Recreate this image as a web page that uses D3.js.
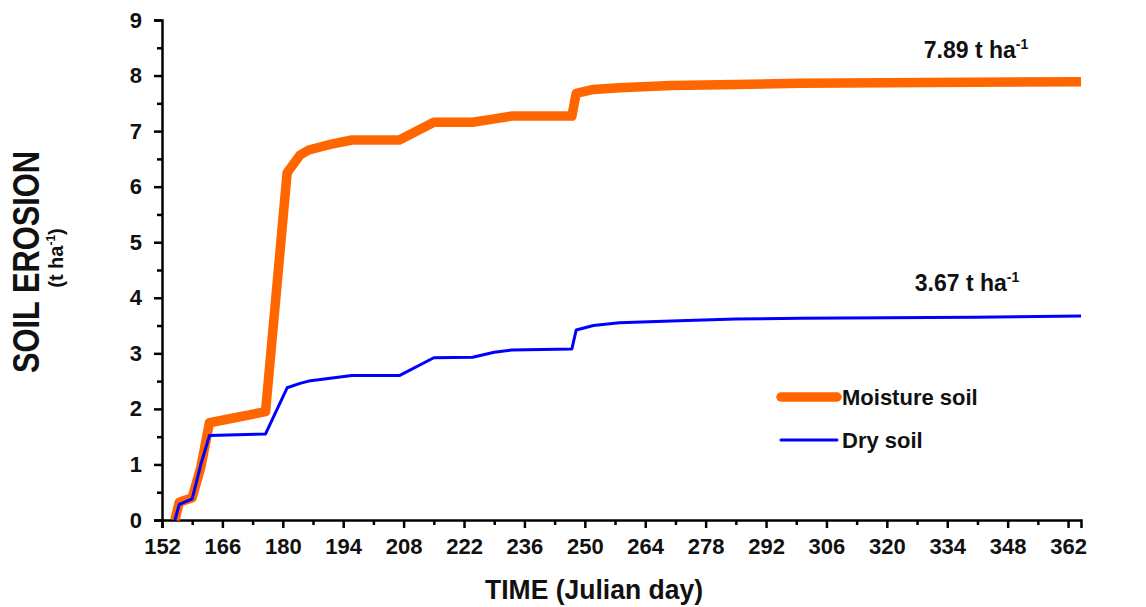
<!DOCTYPE html>
<html>
<head>
<meta charset="utf-8">
<script src="https://cdn.jsdelivr.net/npm/d3@7"></script>
<style>
  html, body { margin: 0; padding: 0; background: #fff; }
  svg { display: block; font-family: "Liberation Sans", Arial, sans-serif; }
</style>
</head>
<body>
<svg id="chart" width="1146" height="607"></svg>
<script>
// Cumulative soil erosion (t ha-1) over the season, by Julian day
const days = [155, 156, 159, 161, 163, 176, 181, 184, 186, 191, 196, 207, 215, 224, 229, 233, 247, 248, 252, 258, 270, 285, 300, 320, 340, 365];
const moistureSoil = [0, 0.32, 0.40, 0.95, 1.75, 1.95, 6.25, 6.57, 6.66, 6.76, 6.84, 6.84, 7.16, 7.16, 7.22, 7.27, 7.27, 7.68, 7.75, 7.78, 7.82, 7.84, 7.86, 7.87, 7.88, 7.89];
const drySoil = [0, 0.28, 0.38, 1.00, 1.52, 1.55, 2.38, 2.46, 2.50, 2.55, 2.60, 2.60, 2.92, 2.93, 3.02, 3.06, 3.08, 3.42, 3.50, 3.55, 3.58, 3.62, 3.63, 3.64, 3.65, 3.67];
const seriesNames = ["Moisture soil", "Dry soil"];
const xTickLabels = [152, 166, 180, 194, 208, 222, 236, 250, 264, 278, 292, 306, 320, 334, 348, 362];
const yTickLabels = [0, 1, 2, 3, 4, 5, 6, 7, 8, 9];
const endLabels = ["7.89", "3.67"];

const svg = d3.select("#chart");
const x = d3.scaleLinear().domain([152, 365]).range([162, 1081]);
const y = d3.scaleLinear().domain([0, 9]).range([520, 20]);

const axisColor = "#000";
const textColor = "#111";
const font = "Liberation Sans, Arial, sans-serif";

// X axis: labelled every 14 days, minor ticks every 7
const xMinor = d3.range(152, 363, 7).filter(d => !xTickLabels.includes(d));
const gx = svg.append("g").attr("transform", `translate(0,${y(0)})`);
gx.call(d3.axisBottom(x).tickValues(xMinor).tickSize(5).tickFormat(""));
gx.select(".domain").remove();
gx.selectAll(".tick line").attr("stroke-width", 2.5).attr("stroke", axisColor);
const gxMaj = svg.append("g").attr("transform", `translate(0,${y(0)})`);
gxMaj.call(d3.axisBottom(x).tickValues(xTickLabels).tickSize(8).tickPadding(10).tickFormat(d3.format("d")));
gxMaj.select(".domain").attr("stroke", axisColor).attr("stroke-width", 2.5);
gxMaj.selectAll(".tick line").attr("stroke", axisColor).attr("stroke-width", 2.5);
gxMaj.selectAll(".tick text").attr("font-size", 22).attr("font-weight", "bold").attr("fill", textColor)
  .attr("font-family", font);

// Y axis: integers labelled, half-units as minor ticks
const yMinor = d3.range(0.5, 9, 1);
const gy = svg.append("g").attr("transform", `translate(${x(152)},0)`);
gy.call(d3.axisLeft(y).tickValues(yMinor).tickSize(5).tickFormat(""));
gy.select(".domain").remove();
gy.selectAll(".tick line").attr("stroke", axisColor).attr("stroke-width", 2.5);
const gyMaj = svg.append("g").attr("transform", `translate(${x(152)},0)`);
gyMaj.call(d3.axisLeft(y).tickValues(yTickLabels).tickSize(8).tickPadding(12).tickFormat(d3.format("d")));
gyMaj.select(".domain").attr("stroke", axisColor).attr("stroke-width", 2.5);
gyMaj.selectAll(".tick line").attr("stroke", axisColor).attr("stroke-width", 2.5);
gyMaj.selectAll(".tick text").attr("font-size", 22).attr("font-weight", "bold").attr("fill", textColor)
  .attr("font-family", font);

// Series lines
const line = d3.line().x((d, i) => x(days[i])).y(d => y(d));
const styles = [
  { values: moistureSoil, color: "#FF6600", width: 9.5 },
  { values: drySoil, color: "#0000FF", width: 3 }
];
styles.forEach(s => {
  svg.append("path")
    .datum(s.values)
    .attr("fill", "none")
    .attr("stroke", s.color)
    .attr("stroke-width", s.width)
    .attr("stroke-linejoin", "round")
    .attr("d", line);
});

// End-of-season totals
const endPos = [[976, 58], [967, 291]];
endLabels.forEach((lab, i) => {
  const t = svg.append("text")
    .attr("x", endPos[i][0]).attr("y", endPos[i][1])
    .attr("text-anchor", "middle")
    .attr("font-size", 23).attr("font-weight", "bold").attr("fill", textColor);
  t.append("tspan").text(lab + " t ha");
  t.append("tspan").attr("font-size", 14).attr("dy", -9).text("-1");
});

// Legend
const legend = svg.append("g");
const legendY = [397, 440];
styles.forEach((s, i) => {
  legend.append("line")
    .attr("x1", 781).attr("x2", 837)
    .attr("y1", legendY[i]).attr("y2", legendY[i])
    .attr("stroke", s.color).attr("stroke-width", s.width)
    .attr("stroke-linecap", "round");
  legend.append("text")
    .attr("x", 842).attr("y", legendY[i] + 8)
    .attr("font-size", 22).attr("font-weight", "bold").attr("fill", textColor)
    .text(seriesNames[i]);
});

// Axis titles
svg.append("text")
  .attr("x", 594).attr("y", 599)
  .attr("text-anchor", "middle")
  .attr("font-size", 27).attr("font-weight", "bold").attr("fill", textColor)
  .attr("textLength", 218).attr("lengthAdjust", "spacingAndGlyphs")
  .text("TIME (Julian day)");

const yTitle = svg.append("g").attr("transform", "translate(39,262) rotate(-90)");
yTitle.append("text")
  .attr("text-anchor", "middle")
  .attr("font-size", 36).attr("font-weight", "bold").attr("fill", textColor)
  .attr("textLength", 222).attr("lengthAdjust", "spacingAndGlyphs")
  .text("SOIL EROSION");
const unit = yTitle.append("text")
  .attr("x", 4).attr("y", 24)
  .attr("text-anchor", "middle")
  .attr("font-size", 20).attr("font-weight", "bold").attr("fill", textColor);
unit.append("tspan").text("(t ha");
unit.append("tspan").attr("font-size", 12).attr("dy", -8).text("-1");
unit.append("tspan").attr("dy", 8).text(")");
</script>
</body>
</html>
